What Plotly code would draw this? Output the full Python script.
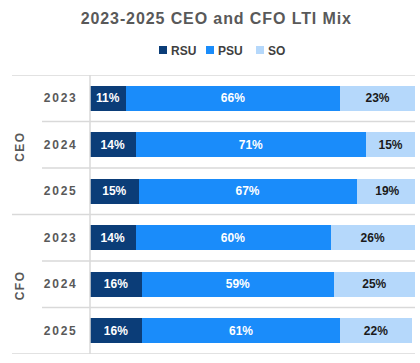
import plotly.graph_objects as go

roles = ["CEO", "CEO", "CEO", "CFO", "CFO", "CFO"]
years = ["2023", "2024", "2025", "2023", "2024", "2025"]
rsu = [11, 14, 15, 14, 16, 16]
psu = [66, 71, 67, 60, 59, 61]
so = [23, 15, 19, 26, 25, 22]
series_names = ["RSU", "PSU", "SO"]
colors = ["#0b3d78", "#1a8cfa", "#b5d8fb"]
text_colors = ["white", "white", "#1a1a1a"]
legend_widths = [2, 5, 5]

rows = [f"{r} {y}" for r, y in zip(roles, years)]

FONT = "Liberation Sans"
W, H = 420, 363

fig = go.Figure()
for name, vals, c, tc in zip(series_names, [rsu, psu, so], colors, text_colors):
    fig.add_trace(go.Bar(
        name=name, y=rows, x=vals, orientation="h",
        marker=dict(color=c, line=dict(width=0)),
        text=[f"{v}%" for v in vals], textposition="inside",
        insidetextanchor="middle",
        textfont=dict(color=tc, size=12, family=FONT, weight="bold"),
        hoverinfo="skip", showlegend=False,
    ))
# legend entries with small square markers
for name, c, lw in zip(series_names, colors, legend_widths):
    fig.add_trace(go.Scatter(
        name=name, x=[None], y=[None], mode="markers",
        marker=dict(symbol="square", size=8, color=c), showlegend=True,
        hoverinfo="skip", legendwidth=lw,
    ))

L, R, T, B = 90, 5, 75, 9
pw = W - L - R

def px2paper(x):
    return (x - L) / pw

shapes = []
line_col = "#d9d9d9"
for i in range(len(rows) + 1):
    yv = i - 0.5
    group_edge = (i % 3 == 0)
    shapes.append(dict(type="line", xref="paper", yref="y",
                       x0=px2paper(12 if group_edge else 42), x1=1.0,
                       y0=yv, y1=yv, line=dict(color=line_col, width=1.5)))
shapes.append(dict(type="line", xref="paper", yref="paper", x0=0, x1=0,
                   y0=0, y1=1, line=dict(color=line_col, width=1.5)))

annotations = []
for g, center in [("CEO", 1), ("CFO", 4)]:
    annotations.append(dict(text=g, xref="paper", yref="y", x=px2paper(20), y=center + 0.04,
                            xanchor="center", yanchor="middle",
                            showarrow=False, textangle=-90,
                            font=dict(size=12, color="#595959", family=FONT, weight="bold")))

fig.update_layout(
    width=W, height=H,
    margin=dict(l=L, r=R, t=T, b=B, autoexpand=False),
    barmode="stack", bargap=0.46,
    plot_bgcolor="white", paper_bgcolor="white",
    title=dict(text="2023-2025 CEO and CFO LTI Mix", x=0.515, xanchor="center",
               y=1 - 18 / H, yanchor="middle",
               font=dict(size=16, color="#595959", family=FONT, weight="bold")),
    legend=dict(orientation="h", xanchor="left", yanchor="middle",
                xref="container", yref="container", x=143 / W, y=1 - 50 / H,
                font=dict(size=12, color="#404040", family=FONT, weight="bold"),
                itemwidth=30, entrywidthmode="pixels", bgcolor="rgba(0,0,0,0)",
                traceorder="normal"),
    xaxis=dict(range=[0, 100], visible=False, fixedrange=True),
    yaxis=dict(type="category", automargin=False,
               tickvals=rows, ticktext=years, showgrid=False, zeroline=False,
               ticks="outside", ticklen=9, tickcolor="rgba(0,0,0,0)",
               tickfont=dict(size=12, color="#595959", family=FONT, weight="bold"),
               showline=False, range=[5.5, -0.5], autorange=False, fixedrange=True),
    shapes=shapes, annotations=annotations,
)

post = """
document.body.style.margin = '0';
var gd = document.getElementsByClassName('plotly-graph-div')[0];
function sp(){
  gd.querySelectorAll('.gtitle').forEach(function(t){t.setAttribute('letter-spacing','0.9px');});
  gd.querySelectorAll('.ytick text').forEach(function(t){t.setAttribute('letter-spacing','1.8px');});
  gd.querySelectorAll('.annotation-text').forEach(function(t){t.setAttribute('letter-spacing','1.5px');});
  gd.querySelectorAll('.legendtext').forEach(function(t){t.setAttribute('x','28');});
}
sp();
gd.on('plotly_afterplot', sp);
"""
fig.write_html("out.html", post_script=post, config={"displayModeBar": False})
